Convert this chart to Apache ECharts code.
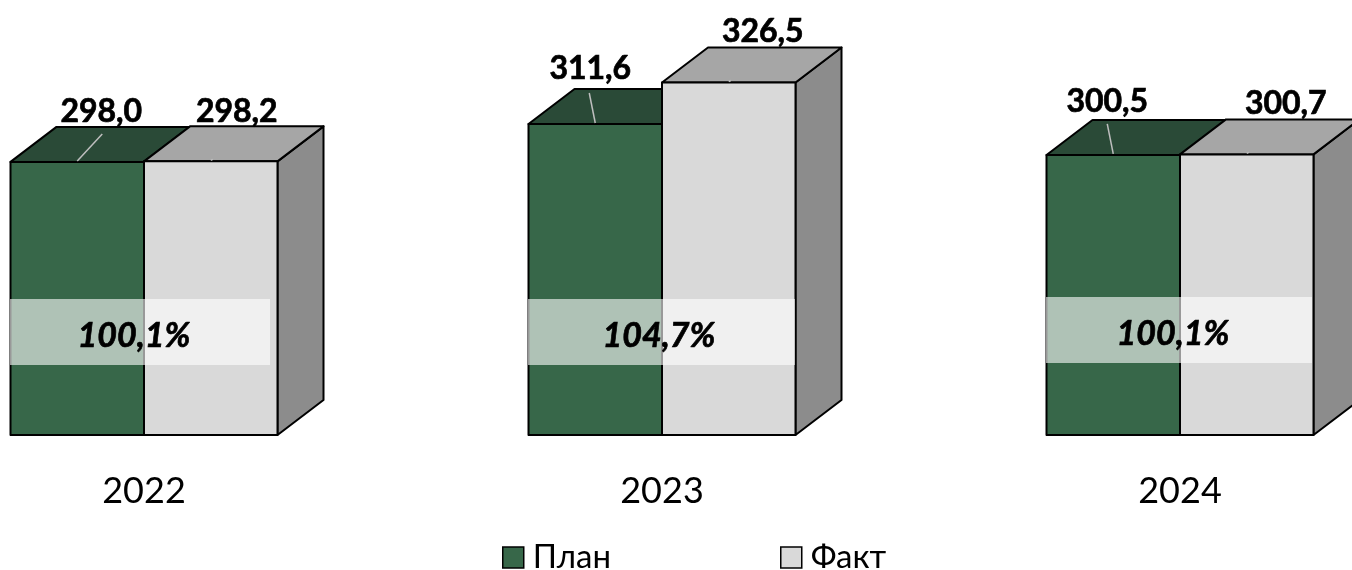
<!DOCTYPE html>
<html>
<head>
<meta charset="utf-8">
<title>План / Факт</title>
<style>
    html, body { margin: 0; padding: 0; background: #fff; }
    #chart { width: 1352px; height: 570px; }
</style>
<script src="https://cdn.jsdelivr.net/npm/echarts@6/dist/echarts.min.js"></script>
</head>
<body>
<div id="chart"></div>
<script>
// 数据
const years = ['2022', '2023', '2024'];
const planValues = [298.0, 311.6, 300.5];
const factValues = [298.2, 326.5, 300.7];
const percentLabels = ['100,1%', '104,7%', '100,1%'];

// 标签相对柱顶的偏移
const planLabelShift = [[24, -50], [-5, -55], [-6, -53]];
const factLabelShift = [[26, -50], [34, -51], [39, -51]];
// 引导线终点相对柱顶的偏移
const planLeaderEnd = [[25, -28], [-6, -31], [-6, -31]];
const factLeaderEnd = [[2, -2], [2, -2], [2, -2]];
// 半透明条带: 相对类目中心的左右边界, 顶部 y, 文字中心 x 偏移
const stripLayout = [
    { left: -134, right: 126, top: 299, textDx: -10 },
    { left: -134, right: 133, top: 299, textDx: -3 },
    { left: -134, right: 132, top: 297, textDx: -7 }
];

const FONT = 'Lato, "Noto Sans", sans-serif';
const BAR_W = 133.5;
const DEPTH_X = 46;
const DEPTH_Y = 35;

function fmt(v) {
    return v.toFixed(1).replace('.', ',');
}

function poly(points, fill) {
    return {
        type: 'polygon',
        shape: { points: points },
        style: { fill: fill, stroke: '#000', lineWidth: 2, lineJoin: 'round' }
    };
}

// 伪3D柱子
function makeBar(slot, front, top, side, shifts, leaders) {
    return function(params, api) {
        const idx = api.value(0);
        const val = api.value(1);
        const c = api.coord([idx, val]);
        const base = api.coord([idx, 200]);
        const x0 = c[0] + slot * BAR_W;
        const x1 = x0 + BAR_W;
        const y0 = c[1];
        const y1 = base[1];
        const s = shifts[idx];
        const l = leaders[idx];
        const mid = (x0 + x1) / 2;
        return {
            type: 'group',
            children: [
                poly([[x1, y1], [x1 + DEPTH_X, y1 - DEPTH_Y], [x1 + DEPTH_X, y0 - DEPTH_Y], [x1, y0]], side),
                poly([[x0, y0], [x0 + DEPTH_X, y0 - DEPTH_Y], [x1 + DEPTH_X, y0 - DEPTH_Y], [x1, y0]], top),
                poly([[x0, y0], [x1, y0], [x1, y1], [x0, y1]], front),
                {
                    type: 'line',
                    shape: { x1: mid, y1: y0 - 1, x2: mid + l[0], y2: y0 + l[1] },
                    style: { stroke: '#bfbfbf', lineWidth: 1.5 }
                },
                {
                    type: 'text',
                    x: mid + s[0],
                    y: y0 + s[1],
                    style: {
                        text: fmt(val),
                        fill: '#000',
                        stroke: '#000',
                        lineWidth: 0.7,
                        font: 'bold 32px ' + FONT,
                        align: 'center',
                        verticalAlign: 'middle'
                    }
                }
            ]
        };
    };
}

// 百分比条带
function renderStrip(params, api) {
    const idx = api.value(0);
    const c = api.coord([idx, 200]);
    const s = stripLayout[idx];
    return {
        type: 'group',
        children: [
            {
                type: 'rect',
                shape: { x: c[0] + s.left, y: s.top, width: s.right - s.left, height: 66 },
                style: { fill: 'rgba(255,255,255,0.6)' }
            },
            {
                type: 'text',
                x: c[0] + s.textDx,
                y: s.top + 37,
                style: {
                    text: percentLabels[idx],
                    fill: '#000',
                    stroke: '#000',
                    lineWidth: 0.7,
                    font: 'italic bold 34px ' + FONT,
                    align: 'center',
                    verticalAlign: 'middle'
                }
            }
        ]
    };
}

const chart = echarts.init(document.getElementById('chart'), null, { renderer: 'canvas' });

const option = {
    animation: false,
    backgroundColor: '#fff',
    grid: { left: -115, width: 1554, top: 17, bottom: 135, outerBoundsMode: 'none' },
    xAxis: {
        type: 'category',
        data: years,
        axisLine: { show: false },
        axisTick: { show: false },
        axisLabel: { color: '#000', fontSize: 36, fontFamily: FONT, margin: 38 }
    },
    yAxis: {
        type: 'value',
        min: 200,
        max: 350,
        show: false
    },
    legend: {
        top: 541,
        left: 502,
        padding: 0,
        itemWidth: 21,
        itemHeight: 21,
        itemGap: 169,
        icon: 'rect',
        textStyle: { color: '#000', fontSize: 33, fontFamily: FONT, padding: [0, 0, 0, 4] },
        data: [
            { name: 'План', itemStyle: { color: '#376749', borderColor: '#000', borderWidth: 1.5 } },
            { name: 'Факт', itemStyle: { color: '#d9d9d9', borderColor: '#000', borderWidth: 1.5 } }
        ]
    },
    series: [
        {
            name: 'План',
            type: 'custom',
            renderItem: makeBar(-1, '#376749', '#2a4a37', '#8c8c8c', planLabelShift, planLeaderEnd),
            encode: { x: 0, y: 1 },
            itemStyle: { color: '#376749' },
            data: planValues.map((v, i) => [i, v])
        },
        {
            name: 'Факт',
            type: 'custom',
            renderItem: makeBar(0, '#d9d9d9', '#a6a6a6', '#8c8c8c', factLabelShift, factLeaderEnd),
            encode: { x: 0, y: 1 },
            itemStyle: { color: '#d9d9d9' },
            data: factValues.map((v, i) => [i, v])
        },
        {
            type: 'custom',
            renderItem: renderStrip,
            encode: { x: 0, y: 1 },
            silent: true,
            data: years.map((y, i) => [i, 200])
        }
    ]
};

chart.setOption(option);
</script>
</body>
</html>
